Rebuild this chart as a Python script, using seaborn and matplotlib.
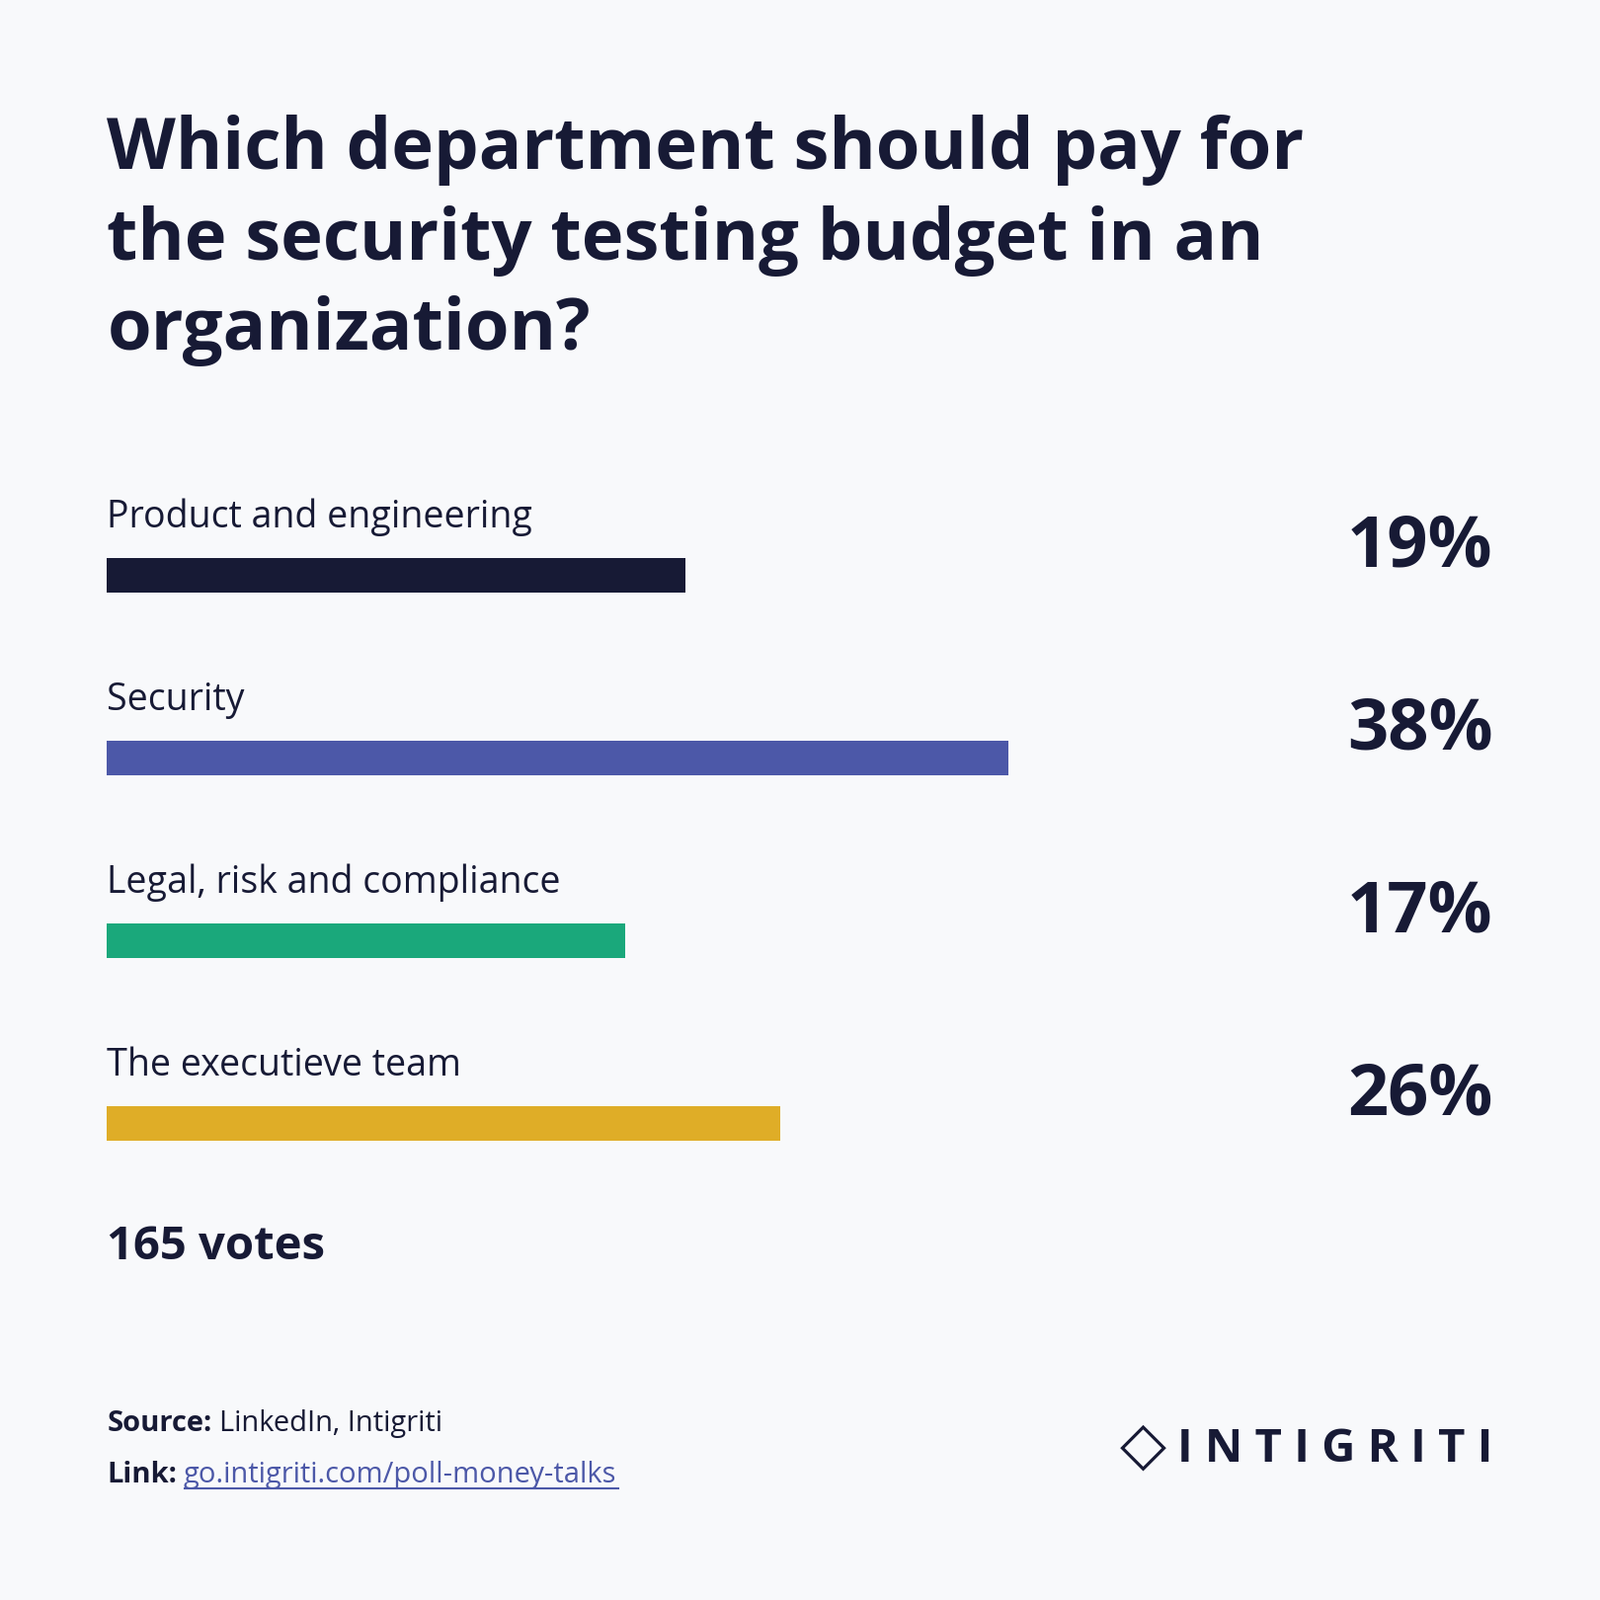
import matplotlib
matplotlib.use("Agg")
import matplotlib.pyplot as plt
import matplotlib.transforms as mtransforms
import seaborn as sns
import pandas as pd

categories = ["Product and engineering", "Security", "Legal, risk and compliance", "The executieve team"]
shares = [19, 38, 17, 26]                 # printed percentages
bar_lengths = [19, 29.6, 17, 22.1]        # drawn bar lengths
colors = ["#171A35", "#4C58A8", "#1AA87B", "#DFAD27"]

BG = "#F8F9FB"
INK = "#171A35"
S = 1568.0  # reference layout units

fig = plt.figure(figsize=(16.2, 16.2), dpi=100, facecolor=BG)

def fx(x): return x / S
def fy(y): return 1 - y / S

fig.text(fx(105), fy(112), "Which department should pay for\nthe security testing budget in an\norganization?",
         fontsize=52, fontweight="bold", family="Open Sans",
         color=INK, va="top", ha="left", linespacing=1.36)

px_per_unit = (672 - 105) / 19
ax = fig.add_axes([fx(105), fy(1190.5), fx(1463 - 105), (1190.5 - 474.5) / S])
ax.set_facecolor(BG)
df = pd.DataFrame({"cat": categories, "val": bar_lengths})
sns.barplot(data=df, x="val", y="cat", hue="cat", palette=colors, orient="h",
            width=0.19, ax=ax, legend=False, saturation=1)
ax.set_xlim(0, (1463 - 105) / px_per_unit)
ax.set_ylim(3.5, -0.5)
ax.axis("off")

trans = mtransforms.blended_transform_factory(ax.transAxes, ax.transData)
for i, (c, v) in enumerate(zip(categories, shares)):
    ax.text(0, i - 0.32, c, transform=trans, fontsize=27, family="Open Sans",
            color=INK, va="center", ha="left")
    ax.text(1, i - 0.15, f"{v}%", transform=trans, fontsize=52, fontweight="bold",
            family="Open Sans", color=INK, va="center", ha="right")

fig.text(fx(105), fy(1222), "165 votes", fontsize=34, fontweight="bold",
         family="Open Sans", color=INK, va="center", ha="left")

fig.text(fx(105), fy(1395), "Source:", fontsize=21, fontweight="bold", family="Open Sans",
         color=INK, va="center", ha="left")
fig.text(fx(215), fy(1395), "LinkedIn, Intigriti", fontsize=21, family="Open Sans",
         color=INK, va="center", ha="left")
fig.text(fx(105), fy(1446), "Link:", fontsize=21, fontweight="bold", family="Open Sans",
         color=INK, va="center", ha="left")
fig.text(fx(180), fy(1446), "go.intigriti.com/poll-money-talks", fontsize=21, family="Open Sans",
         color="#4C58A8", va="center", ha="left")
fig.add_artist(plt.Line2D([fx(181), fx(606)], [fy(1459), fy(1459)], color="#4C58A8", lw=1.5))

# logo
fig.text(fx(1463), fy(1420), "I N T I G R I T I", fontsize=34, fontweight="bold",
         family="Open Sans", color=INK, va="center", ha="right")
fig.text(fx(1120), fy(1418), "\u25C7", fontsize=44, family="DejaVu Sans",
         color=INK, va="center", ha="center")

fig.savefig("out.png", dpi=100, facecolor=BG)
